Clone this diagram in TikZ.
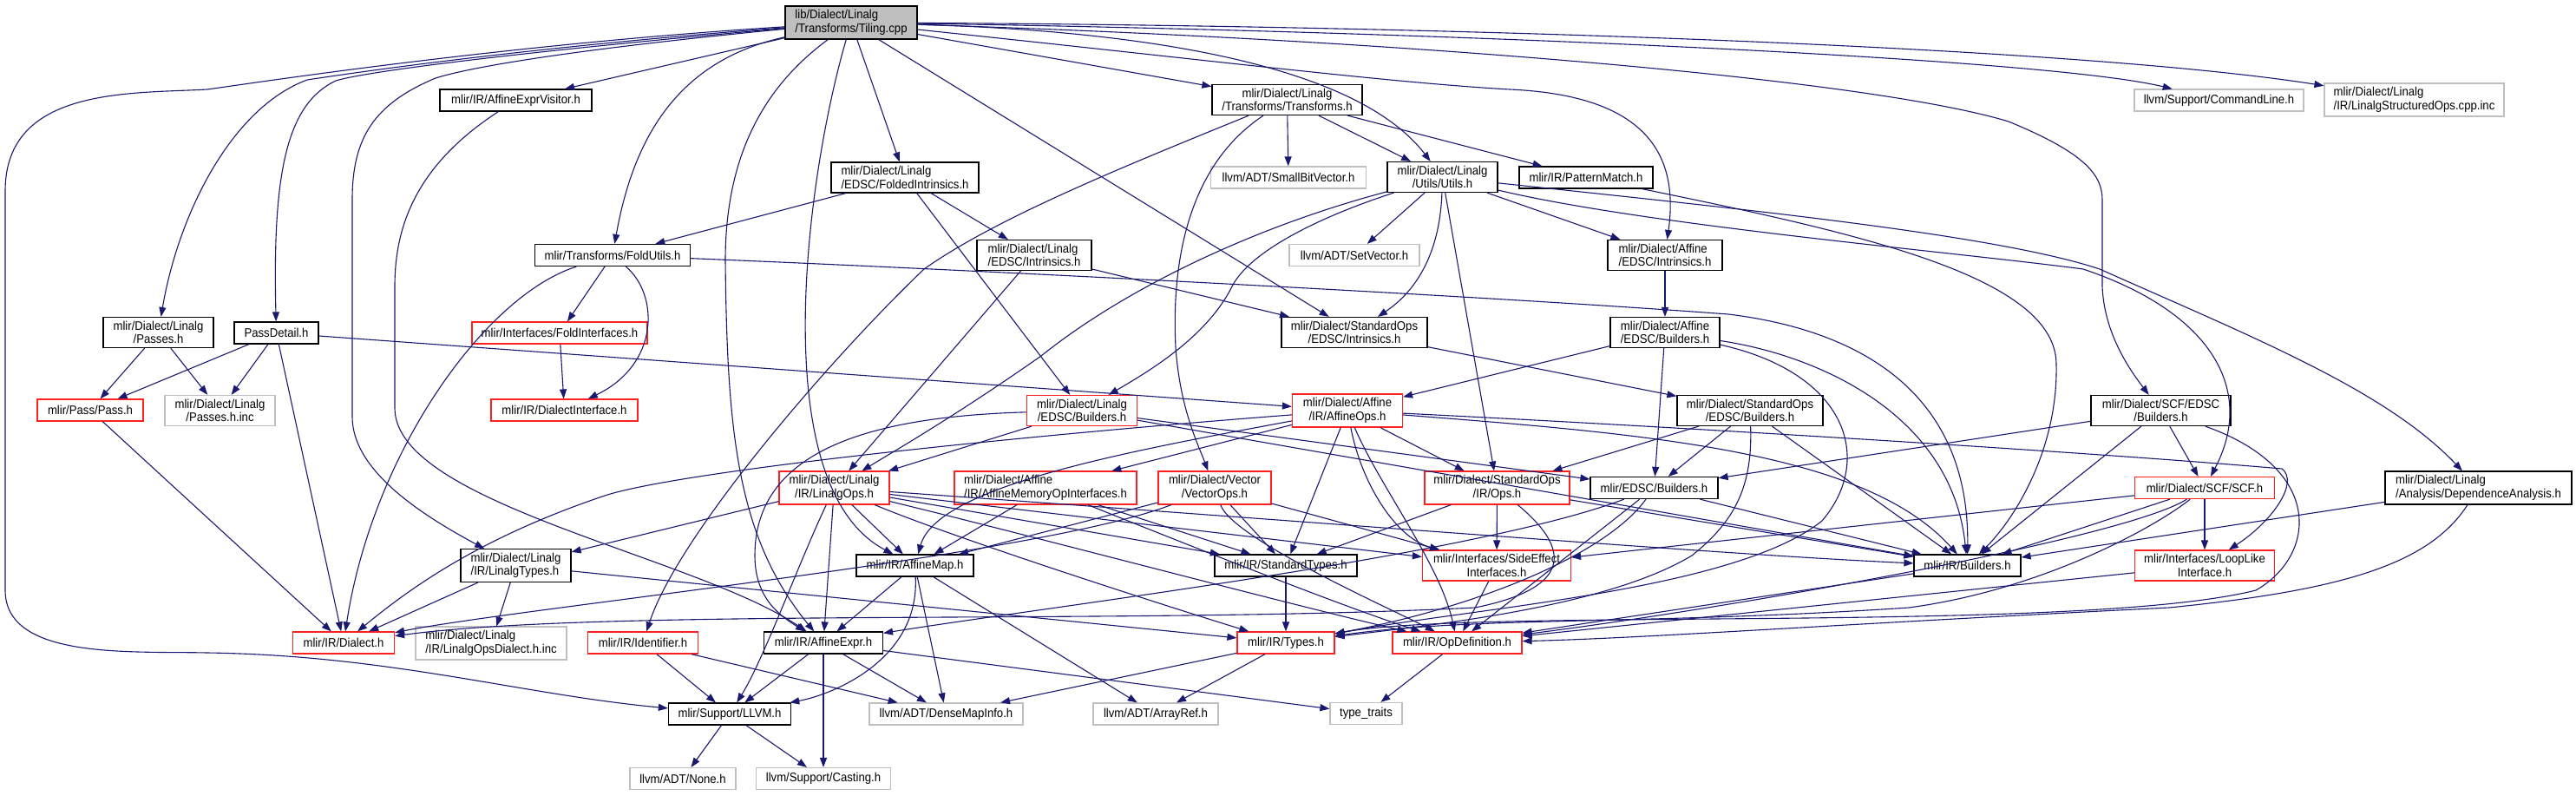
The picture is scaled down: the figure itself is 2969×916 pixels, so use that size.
\documentclass[tikz,border=0pt]{standalone}
\usepackage{fontspec}
\setmainfont{Liberation Sans}[FakeStretch=0.92]
\usetikzlibrary{arrows.meta}

\definecolor{edgeblue}{HTML}{191970}
\definecolor{undocgrey}{HTML}{BFBFBF}
\definecolor{truncred}{HTML}{FF2020}

\begin{document}
\begin{tikzpicture}[x=1pt, y=-1pt,
    hdr/.style={draw=black, line width=1.2pt, fill=white, minimum height=25pt, inner xsep=3pt, inner ysep=4.5pt,
      font=\fontsize{14.3pt}{15.5pt}\selectfont, align=center},
    lhdr/.style={hdr, align=left},
    root/.style={hdr, fill=undocgrey},
    trunc/.style={hdr, draw=truncred},
    undoc/.style={hdr, draw=undocgrey},
    dep/.style={draw=edgeblue, line width=1.1pt, -{Triangle[length=11pt,width=8pt]}}]
    \useasboundingbox (0,0) rectangle (2969,916);

    % Nodes
    \node[root, align=left, minimum width=152] (t) at (981,26) {lib/Dialect/Linalg\\/Transforms/Tiling.cpp};
    \node[hdr, minimum width=175] (aev) at (594.5,115.5) {mlir/IR/AffineExprVisitor.h};
    \node[hdr, minimum width=173] (tr) at (1483.5,115) {mlir/Dialect/Linalg\\/Transforms/Transforms.h};
    \node[undoc, minimum width=195] (cl) at (2557.5,115.5) {llvm/Support/CommandLine.h};
    \node[undoc, align=left, minimum width=207] (soi) at (2782.5,115) {mlir/Dialect/Linalg\\/IR/LinalgStructuredOps.cpp.inc};
    \node[lhdr, minimum width=170] (fi) at (1043,204.5) {mlir/Dialect/Linalg\\/EDSC/FoldedIntrinsics.h};
    \node[undoc, minimum width=179] (sbv) at (1485,204.5) {llvm/ADT/SmallBitVector.h};
    \node[hdr, minimum width=127] (ut) at (1662.5,204) {mlir/Dialect/Linalg\\/Utils/Utils.h};
    \node[hdr, minimum width=154] (pm) at (1828,204.5) {mlir/IR/PatternMatch.h};
    \node[hdr, minimum width=179] (fu) at (706,294) {mlir/Transforms/FoldUtils.h};
    \node[lhdr, minimum width=132] (lei) at (1192,294) {mlir/Dialect/Linalg\\/EDSC/Intrinsics.h};
    \node[undoc, minimum width=150] (sv) at (1561,294) {llvm/ADT/SetVector.h};
    \node[lhdr, minimum width=132] (aei) at (1919,294) {mlir/Dialect/Affine\\/EDSC/Intrinsics.h};
    \node[hdr, minimum width=127] (lp) at (182.5,383) {mlir/Dialect/Linalg\\/Passes.h};
    \node[hdr, minimum width=97] (pd) at (318.5,383.5) {PassDetail.h};
    \node[trunc, minimum width=202] (fif) at (645,383.5) {mlir/Interfaces/FoldInterfaces.h};
    \node[hdr, minimum width=168] (sei) at (1561,383) {mlir/Dialect/StandardOps\\/EDSC/Intrinsics.h};
    \node[hdr, minimum width=126] (aeb) at (1919,383) {mlir/Dialect/Affine\\/EDSC/Builders.h};
    \node[trunc, minimum width=122] (pass) at (104,472.5) {mlir/Pass/Pass.h};
    \node[undoc, minimum width=127] (phi) at (253.5,473) {mlir/Dialect/Linalg\\/Passes.h.inc};
    \node[trunc, minimum width=169] (di) at (650.5,472.5) {mlir/IR/DialectInterface.h};
    \node[trunc, minimum width=127] (leb) at (1247,473) {mlir/Dialect/Linalg\\/EDSC/Builders.h};
    \node[trunc, minimum width=127] (ao) at (1553,473) {mlir/Dialect/Affine\\/IR/AffineOps.h};
    \node[hdr, minimum width=168] (seb) at (2017,473) {mlir/Dialect/StandardOps\\/EDSC/Builders.h};
    \node[hdr, minimum width=161] (scfeb) at (2490.5,473) {mlir/Dialect/SCF/EDSC\\/Builders.h};
    \node[trunc, minimum width=127] (lo) at (961.5,562) {mlir/Dialect/Linalg\\/IR/LinalgOps.h};
    \node[trunc, align=left, minimum width=210] (amoi) at (1205,562) {mlir/Dialect/Affine\\/IR/AffineMemoryOpInterfaces.h};
    \node[trunc, minimum width=130] (vo) at (1400,562) {mlir/Dialect/Vector\\/VectorOps.h};
    \node[trunc, minimum width=167] (so) at (1725.5,562) {mlir/Dialect/StandardOps\\/IR/Ops.h};
    \node[hdr, minimum width=147] (eb) at (1906.5,562) {mlir/EDSC/Builders.h};
    \node[trunc, minimum width=161] (scf) at (2541,562) {mlir/Dialect/SCF/SCF.h};
    \node[lhdr, minimum width=215] (da) at (2856.5,562) {mlir/Dialect/Linalg\\/Analysis/DependenceAnalysis.h};
    \node[lhdr, minimum width=127] (lt) at (594.5,651.5) {mlir/Dialect/Linalg\\/IR/LinalgTypes.h};
    \node[hdr, minimum width=135] (am) at (1054.5,651.5) {mlir/IR/AffineMap.h};
    \node[hdr, minimum width=164] (st) at (1482,651.5) {mlir/IR/StandardTypes.h};
    \node[trunc, minimum width=171] (se) at (1725,651.5) {mlir/Interfaces/SideEffect\\Interfaces.h};
    \node[hdr, minimum width=123] (irb) at (2267.5,651.5) {mlir/IR/Builders.h};
    \node[trunc, minimum width=161] (ll) at (2541,651.5) {mlir/Interfaces/LoopLike\\Interface.h};
    \node[trunc, minimum width=117] (dia) at (396,740.5) {mlir/IR/Dialect.h};
    \node[undoc, align=left, minimum width=174] (lodi) at (566,741) {mlir/Dialect/Linalg\\/IR/LinalgOpsDialect.h.inc};
    \node[trunc, minimum width=127] (id) at (741,740.5) {mlir/IR/Identifier.h};
    \node[hdr, minimum width=137] (ae) at (949,740.5) {mlir/IR/AffineExpr.h};
    \node[trunc, minimum width=112] (ty) at (1482,740.5) {mlir/IR/Types.h};
    \node[trunc, minimum width=149] (od) at (1679.5,740.5) {mlir/IR/OpDefinition.h};
    \node[hdr, minimum width=141] (llvm) at (841,822.5) {mlir/Support/LLVM.h};
    \node[undoc, minimum width=177] (dmi) at (1090.5,822.5) {llvm/ADT/DenseMapInfo.h};
    \node[undoc, minimum width=144] (ar) at (1332,822.5) {llvm/ADT/ArrayRef.h};
    \node[undoc, minimum width=83] (tt) at (1574.5,822) {type\_traits};
    \node[undoc, minimum width=122] (none) at (787,897) {llvm/ADT/None.h};
    \node[undoc, minimum width=155] (cast) at (949,897) {llvm/Support/Casting.h};

    % Tiling.cpp
    \draw[dep] (t) -- (aev);
    \draw[dep] (t) .. controls (600,55) and (400,85) .. (354,92) .. controls (265,125) and (205,250) .. (lp);
    \draw[dep] (t) .. controls (650,55) and (430,80) .. (387,93) .. controls (330,120) and (314,200) .. (pd);
    \draw[dep] (t) .. controls (650,58) and (540,78) .. (502,90) .. controls (430,120) and (406,160) .. (406,230) -- (406,480) .. controls (406,540) and (480,590) .. (lt);
    \draw[dep] (t) .. controls (600,50) and (330,90) .. (239,103) .. controls (150,108) and (6,100) .. (6,220) -- (6,680) .. controls (6,760) and (150,750) .. (239,752) .. controls (450,755) and (600,800) .. (llvm);
    \draw[dep] (t) .. controls (780,70) and (730,160) .. (fu);
    \draw[dep] (t) .. controls (880,100) and (836,180) .. (836,300) .. controls (838,500) and (850,620) .. (ae);
    \draw[dep] (t) .. controls (930,200) and (880,560) .. (am);
    \draw[dep] (t) -- (fi);
    \draw[dep] (t) -- (sei);
    \draw[dep] (t) -- (tr);
    \draw[dep] (t) .. controls (1300,35) and (1560,70) .. (ut);
    \draw[dep] (t) .. controls (1400,70) and (1600,95) .. (1740,103) .. controls (1900,110) and (1935,180) .. (aei);
    \draw[dep] (t) .. controls (1600,45) and (2150,90) .. (2315,140) .. controls (2400,175) and (2423,200) .. (2423,230) -- (2423,330) .. controls (2425,380) and (2450,420) .. (scfeb);
    \draw[dep] (t) .. controls (1600,35) and (2350,65) .. (cl);
    \draw[dep] (t) .. controls (1700,30) and (2400,55) .. (soi);

    % first level
    \draw[dep] (aev) .. controls (480,190) and (455,260) .. (455,330) -- (455,470) .. controls (455,580) and (800,640) .. (ae);
    \draw[dep] (tr) -- (sbv);
    \draw[dep] (tr) -- (ut);
    \draw[dep] (tr) -- (pm);
    \draw[dep] (tr) .. controls (1370,190) and (1350,300) .. (1355,400) .. controls (1360,470) and (1380,510) .. (vo);
    \draw[dep] (tr) .. controls (1300,190) and (1150,250) .. (1065,310) .. controls (950,420) and (780,620) .. (id);
    \draw[dep] (fi) -- (fu);
    \draw[dep] (fi) -- (lei);
    \draw[dep] (fi) -- (leb);
    \draw[dep] (fu) -- (fif);
    \draw[dep] (fu) .. controls (760,340) and (760,420) .. (di);
    \draw[dep] (fu) .. controls (560,340) and (430,520) .. (dia);
    \draw[dep] (fu) .. controls (1100,310) and (1700,340) .. (1992,362) .. controls (2140,380) and (2270,450) .. (irb);
    \draw[dep] (fif) -- (di);
    \draw[dep] (lei) -- (lo);
    \draw[dep] (lei) -- (sei);
    \draw[dep] (ut) -- (sv);
    \draw[dep] (ut) -- (aei);
    \draw[dep] (ut) .. controls (1660,280) and (1640,330) .. (sei);
    \draw[dep] (ut) -- (so);
    \draw[dep] (ut) .. controls (1520,250) and (1440,290) .. (1420,330) .. controls (1390,390) and (1320,430) .. (leb);
    \draw[dep] (ut) .. controls (1450,260) and (1300,330) .. (1200,410) .. controls (1100,480) and (1030,520) .. (lo);
    \draw[dep] (ut) .. controls (1900,260) and (2250,290) .. (2401,310) .. controls (2550,360) and (2600,450) .. (scf);
    \draw[dep] (ut) .. controls (2000,240) and (2300,270) .. (2420,310) .. controls (2600,390) and (2750,450) .. (da);
    \draw[dep] (pm) .. controls (2150,270) and (2370,320) .. (2370,420) .. controls (2372,520) and (2320,600) .. (irb);
    \draw[dep] (aei) -- (aeb);

    % passes
    \draw[dep] (lp) -- (pass);
    \draw[dep] (lp) -- (phi);
    \draw[dep] (pd) -- (pass);
    \draw[dep] (pd) -- (phi);
    \draw[dep] (pd) -- (dia);
    \draw[dep] (pd) -- (ao);
    \draw[dep] (pass) -- (dia);

    % EDSC headers
    \draw[dep] (sei) -- (seb);
    \draw[dep] (aeb) -- (ao);
    \draw[dep] (aeb) -- (eb);
    \draw[dep] (aeb) .. controls (2100,410) and (2250,480) .. (irb);
    \draw[dep] (aeb) .. controls (2130,430) and (2160,530) .. (2100,600) .. controls (2000,680) and (1700,700) .. (ty);
    \draw[dep] (leb) -- (lo);
    \draw[dep] (leb) .. controls (1000,480) and (870,520) .. (870,640) .. controls (870,690) and (900,710) .. (ae);
    \draw[dep] (leb) -- (eb);
    \draw[dep] (leb) -- (irb);
    \draw[dep] (seb) -- (so);
    \draw[dep] (seb) -- (eb);
    \draw[dep] (seb) -- (irb);
    \draw[dep] (seb) .. controls (2020,560) and (2000,600) .. (1950,640) .. controls (1850,700) and (1650,720) .. (ty);
    \draw[dep] (scfeb) -- (eb);
    \draw[dep] (scfeb) -- (scf);
    \draw[dep] (scfeb) -- (irb);
    \draw[dep] (scfeb) .. controls (2680,540) and (2670,640) .. (2600,680) .. controls (2400,730) and (1700,700) .. (ty);

    % AffineOps
    \draw[dep] (ao) -- (amoi);
    \draw[dep] (ao) -- (so);
    \draw[dep] (ao) .. controls (1300,520) and (1080,560) .. (am);
    \draw[dep] (ao) -- (st);
    \draw[dep] (ao) .. controls (1570,560) and (1610,620) .. (se);
    \draw[dep] (ao) .. controls (1590,560) and (1660,650) .. (od);
    \draw[dep] (ao) .. controls (1900,500) and (2150,520) .. (irb);
    \draw[dep] (ao) .. controls (1900,490) and (2400,520) .. (2630,540) .. controls (2650,555) and (2620,600) .. (ll);
    \draw[dep] (ao) .. controls (1200,500) and (800,540) .. (700,570) .. controls (550,620) and (470,680) .. (dia);

    % ops headers
    \draw[dep] (scf) -- (ll);
    \draw[dep] (scf) -- (se);
    \draw[dep] (scf) -- (irb);
    \draw[dep] (scf) .. controls (2450,620) and (2000,700) .. (od);
    \draw[dep] (scf) .. controls (2480,610) and (2350,680) .. (2200,700) .. controls (1900,720) and (1700,710) .. (ty);
    \draw[dep] (da) -- (irb);
    \draw[dep] (da) .. controls (2800,650) and (2700,680) .. (2500,700) .. controls (2100,720) and (1900,735) .. (od);
    \draw[dep] (lo) -- (lt);
    \draw[dep] (lo) -- (ae);
    \draw[dep] (lo) -- (am);
    \draw[dep] (lo) .. controls (920,650) and (880,760) .. (llvm);
    \draw[dep] (lo) -- (st);
    \draw[dep] (lo) -- (se);
    \draw[dep] (lo) .. controls (1200,620) and (1500,700) .. (od);
    \draw[dep] (lo) .. controls (1100,620) and (1350,700) .. (ty);
    \draw[dep] (lo) .. controls (1500,600) and (2000,640) .. (irb);
    \draw[dep] (amoi) -- (am);
    \draw[dep] (amoi) .. controls (1350,620) and (1550,700) .. (od);
    \draw[dep] (amoi) -- (st);
    \draw[dep] (vo) -- (am);
    \draw[dep] (vo) .. controls (1200,640) and (600,700) .. (dia);
    \draw[dep] (vo) .. controls (1420,620) and (1600,700) .. (od);
    \draw[dep] (vo) -- (st);
    \draw[dep] (vo) -- (se);
    \draw[dep] (so) -- (se);
    \draw[dep] (so) -- (st);
    \draw[dep] (so) -- (irb);
    \draw[dep] (so) .. controls (1820,640) and (1800,680) .. (1700,700) .. controls (1300,720) and (700,700) .. (dia);
    \draw[dep] (eb) -- (irb);
    \draw[dep] (eb) .. controls (1850,640) and (1700,700) .. (ty);
    \draw[dep] (eb) .. controls (1700,640) and (1200,700) .. (ae);
    \draw[dep] (eb) -- (od);
    \draw[dep] (ll) -- (od);
    \draw[dep] (irb) -- (od);

    % IR level
    \draw[dep] (lt) -- (dia);
    \draw[dep] (lt) -- (lodi);
    \draw[dep] (lt) -- (ty);
    \draw[dep] (st) -- (ty);
    \draw[dep] (se) -- (od);
    \draw[dep] (od) -- (tt);
    \draw[dep] (ty) -- (dmi);
    \draw[dep] (ty) -- (ar);
    \draw[dep] (am) -- (ae);
    \draw[dep] (am) -- (dmi);
    \draw[dep] (am) -- (ar);
    \draw[dep] (am) .. controls (1060,760) and (960,800) .. (llvm);
    \draw[dep] (ae) -- (llvm);
    \draw[dep] (ae) -- (dmi);
    \draw[dep] (ae) -- (cast);
    \draw[dep] (ae) -- (tt);
    \draw[dep] (id) -- (llvm);
    \draw[dep] (id) -- (dmi);
    \draw[dep] (llvm) -- (none);
    \draw[dep] (llvm) -- (cast);
\end{tikzpicture}
\end{document}
